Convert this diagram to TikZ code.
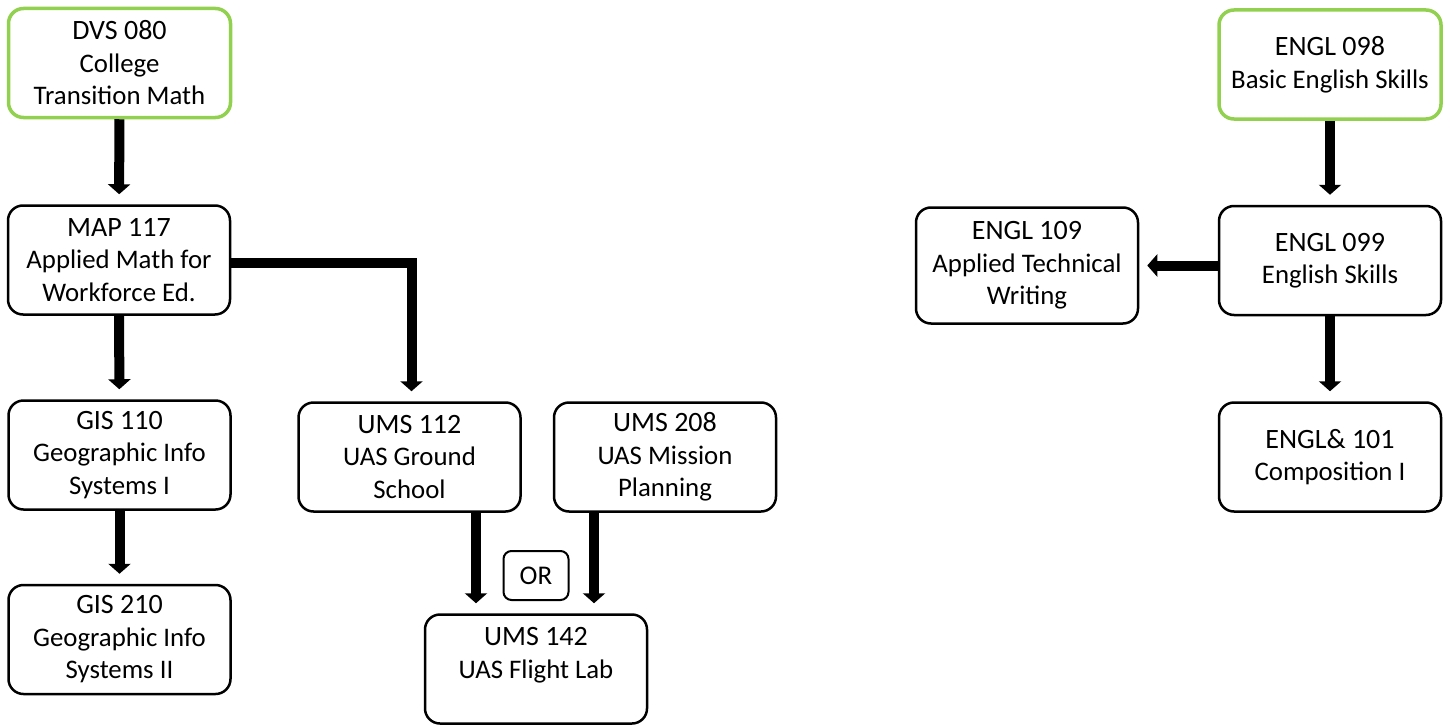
\documentclass[tikz,border=0pt]{standalone}
\usepackage{fontspec}
\setmainfont{Carlito}
\usepackage{xcolor}
\usepackage{tikz}
\usetikzlibrary{arrows.meta,positioning,calc}

\definecolor{startgreen}{RGB}{146,208,80}
\newcommand{\crsno}[1]{{\fontsize{28}{32.5}\selectfont #1}}

\begin{document}
\begin{tikzpicture}[x=1pt, y=-1pt,
    course/.style={rectangle, draw=black, line width=2.5pt, rounded corners=15pt, minimum width=222pt, minimum height=109pt, inner sep=2pt, align=center, font=\fontsize{26.8}{32.5}\selectfont},
    startcourse/.style={course, draw=startgreen, line width=3.5pt},
    orbox/.style={rectangle, draw=black, line width=2pt, rounded corners=8pt, minimum width=65pt, minimum height=49pt, inner sep=2pt, font=\fontsize{27}{32.5}\selectfont},
    arrow/.style={-{Triangle[width=22pt,length=10pt]}, line width=10pt, line join=miter, shorten >=10pt}
]
\useasboundingbox (0,0) rectangle (1450,725);

% math and UAS track
\node[startcourse] (dvs) at (119.5,63) {\crsno{DVS 080}\\College\\Transition Math};
\node[course] (map) at (119,260) {\crsno{MAP 117}\\Applied Math for\\Workforce Ed.};
\node[course] (gis1) at (119.5,455) {\crsno{GIS 110}\\Geographic Info\\Systems I};
\node[course] (gis2) at (119.5,639.5) {\crsno{GIS 210}\\Geographic Info\\Systems II};
\node[course] (ums112) at (409.5,457) {\crsno{UMS 112}\\UAS Ground\\School};
\node[course] (ums208) at (665,457) {\crsno{UMS 208}\\UAS Mission\\Planning};
\node[course] (ums142) at (536,669) {\crsno{UMS 142}\\UAS Flight Lab\\ \mbox{}};
\node[orbox] (or) at (536,575.5) {OR};

\draw[arrow] (dvs) -- (map);
\draw[arrow] (map) -- (gis1);
\draw[arrow] (gis1) -- (gis2);
\draw[arrow] ([yshift=-3pt]map.east) -| ([xshift=2pt]ums112.north);
\draw[arrow] ([xshift=66.5pt]ums112.south) -- ([xshift=66.5pt]ums112.south |- ums142.north);
\draw[arrow] ([xshift=-71pt]ums208.south) -- ([xshift=-71pt]ums208.south |- ums142.north);

% english track
\node[startcourse] (eng098) at (1330,64.5) {\crsno{ENGL 098}\\Basic English Skills};
\node[course] (eng099) at (1330,260.5) {\crsno{ENGL 099}\\English Skills};
\node[course, minimum height=116pt] (eng109) at (1027,265.5) {\crsno{ENGL 109}\\Applied Technical\\Writing};
\node[course] (eng101) at (1330,457) {\crsno{ENGL\& 101}\\Composition I};

\draw[arrow] (eng098) -- (eng099);
\draw[arrow] (eng099) -- (eng101);
\draw[arrow, shorten >=8pt] (eng099.west |- eng109.east) -- (eng109.east);
\end{tikzpicture}
\end{document}
